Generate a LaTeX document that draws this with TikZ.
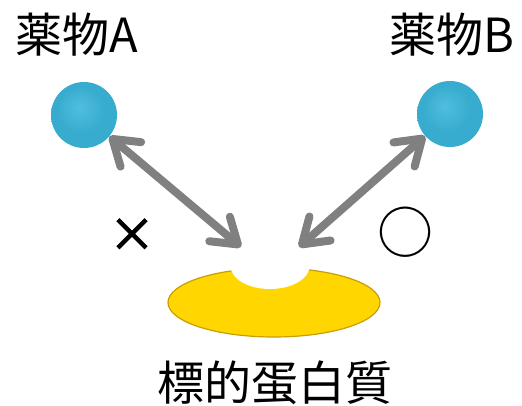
\documentclass[tikz,border=0pt]{standalone}
\usepackage{fontspec}
\setmainfont{Noto Sans CJK JP}
\newfontfamily\boldmark[FakeBold=2.5]{Noto Sans CJK JP}
\usetikzlibrary{arrows.meta, shapes.geometric, positioning}

\definecolor{drugblue}{RGB}{56,172,206}
\definecolor{drughi}{RGB}{80,190,222}
\definecolor{drugrim}{RGB}{28,118,148}
\definecolor{protyellow}{RGB}{255,214,0}
\definecolor{protrim}{RGB}{176,136,0}
\definecolor{arrowgray}{RGB}{128,128,128}

% soft rims for the balls and the protein disc
\pgfdeclareradialshading{drugball}{\pgfpoint{-4bp}{6bp}}{color(0bp)=(drughi); color(18bp)=(drugblue); color(40bp)=(drugblue); color(50bp)=(drugrim)}
\pgfdeclareradialshading{proteindisc}{\pgfpoint{0bp}{0bp}}{color(0bp)=(protyellow); color(36bp)=(protyellow); color(50bp)=(protrim)}

\tikzset{
x=1pt, y=-1pt, % picture is laid out in pixels, y going down
drug/.style={circle, minimum size=66pt, inner sep=0pt, shading=drugball}, % the drug molecules
protein/.style={ellipse, minimum width=212pt, minimum height=69pt, inner sep=0pt, shading=proteindisc, draw=protrim!70!protyellow, line width=1.2pt},
pocket/.style={ellipse, fill=white, minimum width=79pt, minimum height=46pt, inner sep=0pt}, % binding site cut into the disc
caption/.style={font=\fontsize{47}{52}\selectfont, inner sep=0pt},
verdict/.style={font=\fontsize{44}{50}\selectfont, inner sep=0pt},
bind/.style={draw=arrowgray, line width=8pt, {Straight Barb[length=24pt, width=32pt, round]}-{Straight Barb[length=24pt, width=32pt, round]}},
}

\begin{document}
\begin{tikzpicture}
        \useasboundingbox (0,0) rectangle (522,406);

        \node[drug] (drugA) at (84,115) {};
        \node[drug] (drugB) at (450,114) {};
        \node[caption] (nameA) at (77,35) {薬物A};
        \node[caption] (nameB) at (452,35) {薬物B};

        \node[protein] (target) at (274,302.5) {};
        \node[pocket] (site) at (270,266) {};
        \node[caption] (nameT) at (275,383) {標的蛋白質};

        \coordinate (siteA) at (241,247);
        \coordinate (siteB) at (299,247);

        \draw[bind] (drugA) -- (siteA);
        \draw[bind] (drugB) -- (siteB);

        \node[verdict, font=\boldmark\fontsize{46}{50}\selectfont] (noA) at (132,235) {×};
        \node[verdict, font=\fontsize{56}{60}\selectfont] (yesB) at (405,232) {○};
      \end{tikzpicture}
\end{document}
